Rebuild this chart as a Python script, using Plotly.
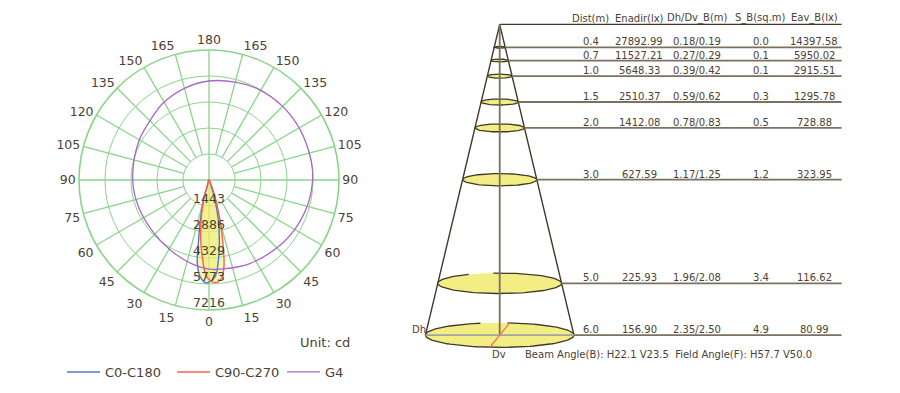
import numpy as np
import plotly.graph_objects as go

# ---------- polar data (cd) ----------
ring_values = [1443, 2886, 4329, 5773, 7216]
angle_ticks = list(range(0, 360, 15))
angle_labels = [str(a if a <= 180 else 360 - a) for a in angle_ticks]

c0_theta = [0, 15.6, 15.8, 11.7, 9.6, 8, 5.3, 1.3, 356.4, 353.3, 350.7, 346.9, 343.3, 342, 0]
c0_r = [0, 480, 1154, 2458, 3552, 4662, 5384, 5716, 5376, 4470, 3560, 2280, 1160, 485, 0]
c90_theta = [0, 15.5, 16.7, 12.4, 8.4, 4.5, 1.4, 356.7, 352.7, 350.2, 347.9, 344.6, 340.2, 338, 0]
c90_r = [0, 345, 775, 1896, 3170, 4450, 5366, 5705, 5500, 4880, 3780, 2300, 983, 500, 0]
g4_theta = [0, 13, 29, 46, 69, 90, 118, 135, 149, 165, 180, 195, 209, 225, 241, 260, 270, 283, 299, 314, 334, 351, 360]
g4_r = [4950, 4720, 4440, 4250, 4190, 4235, 4440, 4640, 4967, 5270, 5495, 5620, 5740, 5780, 5780, 5770, 5755, 5660, 5500, 5340, 5160, 5000, 4950]

# ---------- table data ----------
dist = [0.4, 0.7, 1.0, 1.5, 2.0, 3.0, 5.0, 6.0]
enadir = ["27892.99", "11527.21", "5648.33", "2510.37", "1412.08", "627.59", "225.93", "156.90"]
dh = [0.18, 0.27, 0.39, 0.59, 0.78, 1.17, 1.96, 2.35]
dv = [0.19, 0.29, 0.42, 0.62, 0.83, 1.25, 2.08, 2.50]
s_b = ["0.0", "0.1", "0.1", "0.3", "0.5", "1.2", "3.4", "4.9"]
eav = ["14397.58", "5950.02", "2915.51", "1295.78", "728.88", "323.95", "116.62", "80.99"]
headers = ["Dist(m)", "Enadir(lx)", "Dh/Dv_B(m)", "S_B(sq.m)", "Eav_B(lx)"]
beam_text = "Beam Angle(B): H22.1 V23.5  Field Angle(F): H57.7 V50.0"

# ---------- style ----------
W, H = 900, 393
FONT = "DejaVu Sans"
TXT = "#4a4234"
GREEN = "#8ad48a"
LINE = "#7a7160"
DARK = "#40392b"
YELLOW = "#f2ee84"
PX_PER_M_X, PX_PER_M_Y = 63.2, 51.8
APEX_X, APEX_Y = 499.7, 24.3
ROW_END = 5.41
V_SQUASH = 0.0946
row_pos = [0.444] + dist[1:]
col_px = [590.7, 639, 697.3, 760.7, 814.3]

fig = go.Figure()

# polar grid spokes (start at the first ring, axes pass through centre)
sp_t, sp_r = [], []
for a in angle_ticks:
    sp_t += [a, a, None]
    sp_r += [0 if a % 90 == 0 else ring_values[0], ring_values[-1], None]
fig.add_trace(go.Scatterpolar(theta=sp_t, r=sp_r, mode="lines", subplot="polar",
                              line=dict(color=GREEN, width=1.3), showlegend=False, hoverinfo="skip"))

FILL = "rgba(240,235,110,0.5)"
for th, rr in ((c0_theta, c0_r), (c90_theta, c90_r)):
    fig.add_trace(go.Scatterpolar(theta=th, r=rr, mode="none", subplot="polar", fill="toself", fillcolor=FILL,
                                  showlegend=False, hoverinfo="skip"))
fig.add_trace(go.Scatterpolar(theta=c0_theta, r=c0_r, name="C0-C180", mode="lines", subplot="polar",
                              line=dict(color="#4f78d0", width=1.4, shape="spline")))
fig.add_trace(go.Scatterpolar(theta=c90_theta, r=c90_r, name="C90-C270", mode="lines", subplot="polar",
                              line=dict(color="#f8604f", width=1.4, shape="spline")))
fig.add_trace(go.Scatterpolar(theta=g4_theta, r=g4_r, name="G4", mode="lines", subplot="polar",
                              line=dict(color="#a868c8", width=1.3, shape="spline")))
fig.add_trace(go.Scatterpolar(theta=[0] * 5, r=ring_values, mode="text", subplot="polar",
                              text=[str(v) for v in ring_values], textposition="top center",
                              textfont=dict(family=FONT, size=12.5, color=TXT),
                              showlegend=False, hoverinfo="skip"))

# pyramid: cone edges and centre axis
fig.add_trace(go.Scatter(x=[-dh[-1] / 2, 0, dh[-1] / 2], y=[dist[-1], 0, dist[-1]], mode="lines",
                         line=dict(color=DARK, width=1.4), showlegend=False, hoverinfo="skip"))

t = np.linspace(0, 2 * np.pi, 121)
gaps = {6: (-0.48, -0.13), 7: (-0.29, 0.08)}
for i, d in enumerate(row_pos):
    ex = dh[i] / 2 * np.cos(t)
    ey = d + dv[i] * V_SQUASH * np.sin(t)
    fig.add_trace(go.Scatter(x=ex, y=ey, mode="none", fill="toself", fillcolor=YELLOW,
                             showlegend=False, hoverinfo="skip"))
    ox = ex.copy()
    if i in gaps:
        lo, hi = gaps[i]
        ox[(ex > lo) & (ex < hi) & (np.sin(t) < 0)] = np.nan
    fig.add_trace(go.Scatter(x=ox, y=ey, mode="lines", connectgaps=False,
                             line=dict(color=DARK, width=1.3), showlegend=False, hoverinfo="skip"))

# horizontal rows
fig.add_trace(go.Scatter(x=[0, ROW_END], y=[0, 0], mode="lines", line=dict(color=DARK, width=1.3),
                         showlegend=False, hoverinfo="skip"))
rx, ry = [], []
for i, d in enumerate(row_pos):
    rx += [dh[i] / 2, ROW_END, None]
    ry += [d, d, None]
fig.add_trace(go.Scatter(x=rx, y=ry, mode="lines", line=dict(color=LINE, width=1.8),
                         showlegend=False, hoverinfo="skip"))
fig.add_trace(go.Scatter(x=[0, 0], y=[0, dist[-1]], mode="lines", line=dict(color=LINE, width=1.8),
                         showlegend=False, hoverinfo="skip"))
fig.add_trace(go.Scatter(x=[-dh[-1] / 2, dh[-1] / 2], y=[dist[-1]] * 2, mode="lines",
                         line=dict(color="#a3a3a3", width=1.8), showlegend=False, hoverinfo="skip"))
fig.add_trace(go.Scatter(x=[-dv[-1] * 0.0633, dv[-1] * 0.0633],
                         y=[dist[-1] + dv[-1] * V_SQUASH, dist[-1] - dv[-1] * V_SQUASH], mode="lines",
                         line=dict(color="#f0705e", width=1.4), showlegend=False, hoverinfo="skip"))


def label(text, px, row_y=None, py=None, size=10, anchor="center", shift=0):
    if row_y is not None:
        return dict(text=text, x=px / W, xref="paper", y=row_y, yref="y", yanchor="bottom", yshift=shift,
                    xanchor=anchor, showarrow=False, font=dict(family=FONT, size=size, color=TXT), borderpad=0)
    return dict(text=text, x=px / W, xref="paper", y=1 - py / H, yref="paper", yanchor="middle",
                xanchor=anchor, showarrow=False, font=dict(family=FONT, size=size, color=TXT), borderpad=0)


ann = []
for px, h in zip(col_px, headers):
    ann.append(label(h, px, row_y=0, shift=-1))
for i, d in enumerate(row_pos):
    vals = [f"{dist[i]:.1f}", enadir[i], f"{dh[i]:.2f}/{dv[i]:.2f}", s_b[i], eav[i]]
    for px, v in zip(col_px, vals):
        ann.append(label(v, px, row_y=d, shift=-1))
ann.append(label("Dh", 418.5, py=329.3))
ann.append(label("Dv", 499, py=354))
ann.append(label(beam_text, 523.5, py=354, anchor="left"))
ann.append(label("Unit: cd", 325, py=342.3, size=13))

fig.update_layout(
    width=W, height=H, margin=dict(l=0, r=0, t=0, b=0), paper_bgcolor="white", plot_bgcolor="white",
    font=dict(family=FONT, size=12.5, color=TXT), annotations=ann,
    polar=dict(
        domain=dict(x=[79 / W, 339 / W], y=[1 - 310 / H, 1 - 50 / H]), bgcolor="white",
        radialaxis=dict(range=[0, ring_values[-1]], tickvals=ring_values, showticklabels=False, ticks="",
                        showline=False, gridcolor=GREEN, gridwidth=1.3, layer="below traces"),
        angularaxis=dict(rotation=-90, direction="clockwise", tickmode="array", tickvals=angle_ticks,
                         ticktext=angle_labels, showgrid=False, linecolor=GREEN, linewidth=1.6,
                         ticks="", ticklen=0, tickfont=dict(family=FONT, size=12.5, color=TXT)),
    ),
    xaxis=dict(domain=[410 / W, 850 / W], range=[(410 - APEX_X) / PX_PER_M_X, (850 - APEX_X) / PX_PER_M_X],
               visible=False),
    yaxis=dict(domain=[0, 1], range=[(H - APEX_Y) / PX_PER_M_Y, -APEX_Y / PX_PER_M_Y], visible=False),
    legend=dict(orientation="h", x=62 / W, xanchor="left", y=1 - 372 / H, yanchor="middle",
                entrywidth=62, entrywidthmode="pixels", itemwidth=33, traceorder="normal",
                font=dict(family=FONT, size=13, color=TXT), bgcolor="rgba(0,0,0,0)"),
)

fig.write_html("out.html", config={"displayModeBar": False}, post_script="document.body.style.margin='0';")
